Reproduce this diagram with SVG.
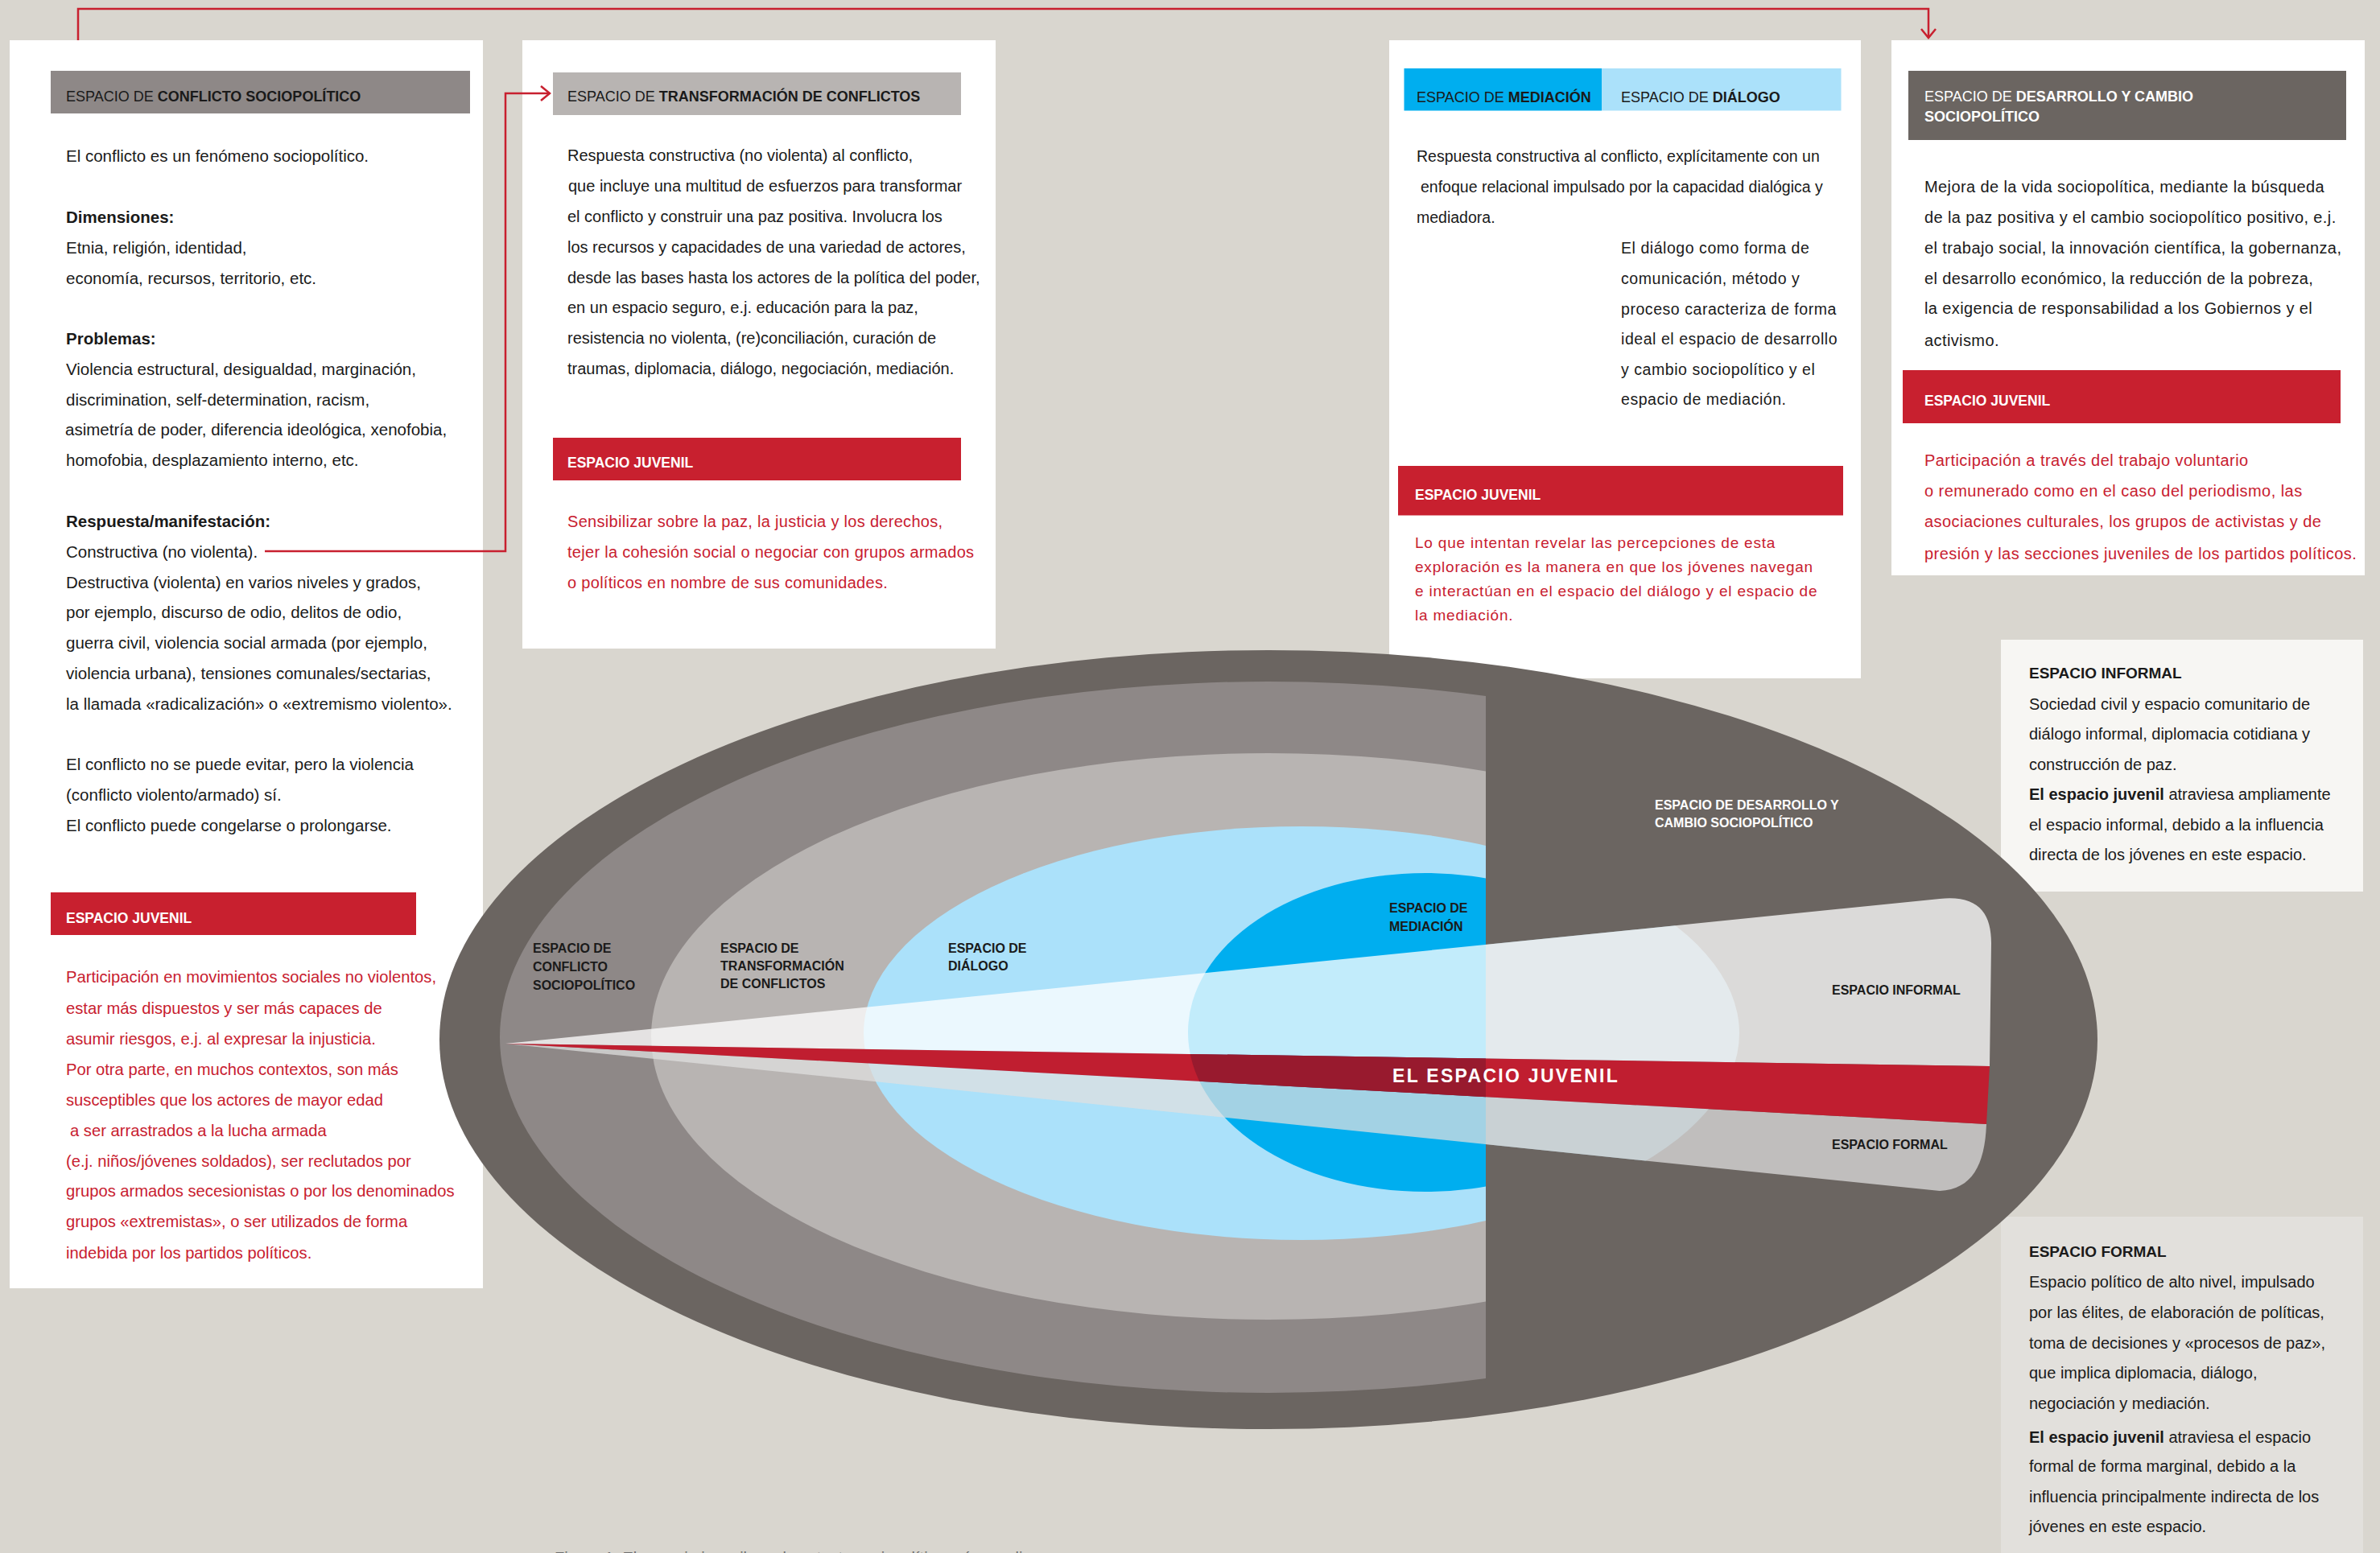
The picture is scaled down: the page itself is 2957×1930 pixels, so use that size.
<svg xmlns="http://www.w3.org/2000/svg" width="2957" height="1930" viewBox="0 0 2957 1930">
<style>
text{font-family:"Liberation Sans",Arial,sans-serif;}
.bg{fill:#d9d6cf}
.box{fill:#ffffff}
.hd{font-size:18px;fill:#1a1a1a}
.hw{font-size:18px;fill:#ffffff}
.jv{font-size:17.5px;fill:#ffffff;font-weight:bold}
.b1{font-size:20.5px;fill:#1a1a1a}
.r1{font-size:20.2px;fill:#c8202f}
.b2{font-size:20px;fill:#1a1a1a}
.r2{font-size:20px;fill:#c8202f;letter-spacing:0.3px}
.b4{font-size:20px;fill:#1a1a1a;letter-spacing:0.4px}
.r4{font-size:20px;fill:#c8202f;letter-spacing:0.45px}
.b3{font-size:19.5px;fill:#1a1a1a}
.b3w{font-size:19.5px;fill:#1a1a1a;letter-spacing:0.55px}
.r3{font-size:19px;fill:#c8202f;letter-spacing:0.8px}
.b5{font-size:20px;fill:#1a1a1a}
.lb{font-size:16px;font-weight:bold;fill:#1a1a1a}
.lw{font-size:16px;font-weight:bold;fill:#ffffff}
.bold{font-weight:bold}
.redfill{fill:#c8202f}
.conn{fill:none;stroke:#c8202f;stroke-width:2.5}
</style>
<defs>
<marker id="chev" markerUnits="userSpaceOnUse" markerWidth="16" markerHeight="22" refX="13" refY="11" orient="auto">
<path d="M2,2 L13,11 L2,20" fill="none" stroke="#c8202f" stroke-width="2.5"/>
</marker>
<clipPath id="cut"><rect x="0" y="0" width="1846" height="1930"/></clipPath>
<clipPath id="rightcut"><rect x="1846" y="0" width="1111" height="1930"/></clipPath>
<clipPath id="wedgeclip"><path d="M628,1297 L2410,1117 C2458,1112 2474,1135 2474,1172 L2468,1397 C2466,1448 2450,1478 2410,1480 Z"/></clipPath>
<clipPath id="midclip"><ellipse cx="1771" cy="1283" rx="295" ry="198"/></clipPath>
</defs>
<rect class="bg" x="0" y="0" width="2957" height="1930"/>

<g id="box-conflicto">
<rect class="box" x="12" y="50" width="588" height="1551"/>
<rect x="63" y="88" width="521" height="53" fill="#8e8887"/>
<text class="hd" x="82" y="126">ESPACIO DE <tspan class="bold">CONFLICTO SOCIOPOLÍTICO</tspan></text>
<text class="b1" x="82" y="201">El conflicto es un fenómeno sociopolítico.</text>
<text class="b1 bold" x="82" y="277">Dimensiones:</text>
<text class="b1" x="82" y="315">Etnia, religión, identidad,</text>
<text class="b1" x="82" y="353">economía, recursos, territorio, etc.</text>
<text class="b1 bold" x="82" y="428">Problemas:</text>
<text class="b1" x="82" y="466">Violencia estructural, desigualdad, marginación,</text>
<text class="b1" x="82" y="504">discrimination, self-determination, racism,</text>
<text class="b1" x="81" y="541">asimetría de poder, diferencia ideológica, xenofobia,</text>
<text class="b1" x="82" y="579">homofobia, desplazamiento interno, etc.</text>
<text class="b1 bold" x="82" y="655">Respuesta/manifestación:</text>
<text class="b1" x="82" y="693">Constructiva (no violenta).</text>
<text class="b1" x="82" y="731">Destructiva (violenta) en varios niveles y grados,</text>
<text class="b1" x="82" y="768">por ejemplo, discurso de odio, delitos de odio,</text>
<text class="b1" x="82" y="806">guerra civil, violencia social armada (por ejemplo,</text>
<text class="b1" x="82" y="844">violencia urbana), tensiones comunales/sectarias,</text>
<text class="b1" x="82" y="882">la llamada «radicalización» o «extremismo violento».</text>
<text class="b1" x="82" y="957">El conflicto no se puede evitar, pero la violencia</text>
<text class="b1" x="82" y="995">(conflicto violento/armado) sí.</text>
<text class="b1" x="82" y="1033">El conflicto puede congelarse o prolongarse.</text>
<rect class="redfill" x="63" y="1109" width="454" height="53"/>
<text class="jv" x="82" y="1147">ESPACIO JUVENIL</text>
<text class="r1" x="82" y="1221">Participación en movimientos sociales no violentos,</text>
<text class="r1" x="82" y="1260">estar más dispuestos y ser más capaces de</text>
<text class="r1" x="82" y="1298">asumir riesgos, e.j. al expresar la injusticia.</text>
<text class="r1" x="82" y="1336">Por otra parte, en muchos contextos, son más</text>
<text class="r1" x="82" y="1374">susceptibles que los actores de mayor edad</text>
<text class="r1" x="87" y="1412">a ser arrastrados a la lucha armada</text>
<text class="r1" x="82" y="1450">(e.j. niños/jóvenes soldados), ser reclutados por</text>
<text class="r1" x="82" y="1487">grupos armados secesionistas o por los denominados</text>
<text class="r1" x="82" y="1525">grupos «extremistas», o ser utilizados de forma</text>
<text class="r1" x="82" y="1564">indebida por los partidos políticos.</text>
</g>

<g id="box-transformacion">
<rect class="box" x="649" y="50" width="588" height="756"/>
<rect x="687" y="90" width="507" height="53" fill="#b8b4b2"/>
<text class="hd" x="705" y="126">ESPACIO DE <tspan class="bold">TRANSFORMACIÓN DE CONFLICTOS</tspan></text>
<text class="b2" x="705" y="200">Respuesta constructiva (no violenta) al conflicto,</text>
<text class="b2" x="706" y="238">que incluye una multitud de esfuerzos para transformar</text>
<text class="b2" x="705" y="276">el conflicto y construir una paz positiva. Involucra los</text>
<text class="b2" x="705" y="314">los recursos y capacidades de una variedad de actores,</text>
<text class="b2" x="705" y="352">desde las bases hasta los actores de la política del poder,</text>
<text class="b2" x="705" y="389">en un espacio seguro, e.j. educación para la paz,</text>
<text class="b2" x="705" y="427">resistencia no violenta, (re)conciliación, curación de</text>
<text class="b2" x="705" y="465">traumas, diplomacia, diálogo, negociación, mediación.</text>
<rect class="redfill" x="687" y="544" width="507" height="53"/>
<text class="jv" x="705" y="581">ESPACIO JUVENIL</text>
<text class="r2" x="705" y="655">Sensibilizar sobre la paz, la justicia y los derechos,</text>
<text class="r2" x="705" y="693">tejer la cohesión social o negociar con grupos armados</text>
<text class="r2" x="705" y="731">o políticos en nombre de sus comunidades.</text>
</g>

<g id="box-mediacion-dialogo">
<rect class="box" x="1726" y="50" width="586" height="793"/>
<rect x="1744.5" y="85" width="245.5" height="52.5" fill="#00aeef"/>
<rect x="1990" y="85" width="297.5" height="52.5" fill="#abe1fa"/>
<text class="hd" x="1760" y="127">ESPACIO DE <tspan class="bold">MEDIACIÓN</tspan></text>
<text class="hd" x="2014" y="127">ESPACIO DE <tspan class="bold">DIÁLOGO</tspan></text>
<text class="b3" x="1760" y="201">Respuesta constructiva al conflicto, explícitamente con un</text>
<text class="b3" x="1765" y="239">enfoque relacional impulsado por la capacidad dialógica y</text>
<text class="b3" x="1760" y="277">mediadora.</text>
<text class="b3w" x="2014" y="315">El diálogo como forma de</text>
<text class="b3w" x="2014" y="353">comunicación, método y</text>
<text class="b3w" x="2014" y="391">proceso caracteriza de forma</text>
<text class="b3w" x="2014" y="428">ideal el espacio de desarrollo</text>
<text class="b3w" x="2014" y="466">y cambio sociopolítico y el</text>
<text class="b3w" x="2014" y="503">espacio de mediación.</text>
<rect class="redfill" x="1737" y="579" width="553" height="61.5"/>
<text class="jv" x="1758" y="621">ESPACIO JUVENIL</text>
<text class="r3" x="1758" y="681">Lo que intentan revelar las percepciones de esta</text>
<text class="r3" x="1758" y="711">exploración es la manera en que los jóvenes navegan</text>
<text class="r3" x="1758" y="741">e interactúan en el espacio del diálogo y el espacio de</text>
<text class="r3" x="1758" y="771">la mediación.</text>
</g>

<g id="box-desarrollo">
<rect class="box" x="2350" y="50" width="588" height="665"/>
<rect x="2371" y="88" width="544" height="86" fill="#6b6561"/>
<text class="hw" x="2391" y="126">ESPACIO DE <tspan class="bold">DESARROLLO Y CAMBIO</tspan></text>
<text class="hw bold" x="2391" y="151">SOCIOPOLÍTICO</text>
<text class="b4" x="2391" y="239">Mejora de la vida sociopolítica, mediante la búsqueda</text>
<text class="b4" x="2391" y="277">de la paz positiva y el cambio sociopolítico positivo, e.j.</text>
<text class="b4" x="2391" y="315">el trabajo social, la innovación científica, la gobernanza,</text>
<text class="b4" x="2391" y="353">el desarrollo económico, la reducción de la pobreza,</text>
<text class="b4" x="2391" y="390">la exigencia de responsabilidad a los Gobiernos y el</text>
<text class="b4" x="2391" y="430">activismo.</text>
<rect class="redfill" x="2364" y="460" width="544" height="66"/>
<text class="jv" x="2391" y="504">ESPACIO JUVENIL</text>
<text class="r4" x="2391" y="579">Participación a través del trabajo voluntario</text>
<text class="r4" x="2391" y="617">o remunerado como en el caso del periodismo, las</text>
<text class="r4" x="2391" y="655">asociaciones culturales, los grupos de activistas y de</text>
<text class="r4" x="2391" y="695">presión y las secciones juveniles de los partidos políticos.</text>
</g>

<g id="box-informal">
<rect x="2486" y="795" width="450" height="313" fill="#f7f6f3"/>
<text class="b5 bold" x="2521" y="843" style="font-size:19px">ESPACIO INFORMAL</text>
<text class="b5" x="2521" y="882">Sociedad civil y espacio comunitario de</text>
<text class="b5" x="2521" y="919">diálogo informal, diplomacia cotidiana y</text>
<text class="b5" x="2521" y="957">construcción de paz.</text>
<text class="b5" x="2521" y="994"><tspan class="bold">El espacio juvenil</tspan> atraviesa ampliamente</text>
<text class="b5" x="2521" y="1032">el espacio informal, debido a la influencia</text>
<text class="b5" x="2521" y="1069">directa de los jóvenes en este espacio.</text>
</g>

<g id="box-formal">
<rect x="2486" y="1512" width="450" height="418" fill="#e2e0dc"/>
<text class="b5 bold" x="2521" y="1562" style="font-size:19px">ESPACIO FORMAL</text>
<text class="b5" x="2521" y="1600">Espacio político de alto nivel, impulsado</text>
<text class="b5" x="2521" y="1638">por las élites, de elaboración de políticas,</text>
<text class="b5" x="2521" y="1676">toma de decisiones y «procesos de paz»,</text>
<text class="b5" x="2521" y="1713">que implica diplomacia, diálogo,</text>
<text class="b5" x="2521" y="1751">negociación y mediación.</text>
<text class="b5" x="2521" y="1793"><tspan class="bold">El espacio juvenil</tspan> atraviesa el espacio</text>
<text class="b5" x="2521" y="1829">formal de forma marginal, debido a la</text>
<text class="b5" x="2521" y="1867">influencia principalmente indirecta de los</text>
<text class="b5" x="2521" y="1904">jóvenes en este espacio.</text>
</g>

<g id="diagram-espacios">
<ellipse cx="1576" cy="1292" rx="1030" ry="484" fill="#6b6561"/>
<g clip-path="url(#cut)">
<ellipse cx="1576" cy="1289" rx="955" ry="442" fill="#8e8887"/>
<ellipse cx="1576" cy="1288" rx="767" ry="352" fill="#b8b4b2"/>
<ellipse cx="1617" cy="1284" rx="544" ry="257" fill="#abe1fa"/>
<ellipse cx="1771" cy="1283" rx="295" ry="198" fill="#00aeef"/>
</g>
<g clip-path="url(#wedgeclip)"><g clip-path="url(#rightcut)">
<ellipse cx="1617" cy="1284" rx="544" ry="257" fill="#abe1fa" fill-opacity="0.55"/>
</g></g>
<path id="wedge-informal" d="M628,1297 L2410,1117 C2458,1112 2474,1135 2474,1172 L2472,1325 Z" fill="#ffffff" fill-opacity="0.76"/>
<path id="wedge-formal" d="M628,1297 L2468,1397 C2466,1448 2450,1478 2410,1480 Z" fill="#e0e0e0" fill-opacity="0.73"/>
<path id="band-juvenil" d="M628,1297 L2472,1325 L2468,1397 Z" fill="#c01e30"/>
<g clip-path="url(#cut)"><path d="M628,1297 L2472,1325 L2468,1397 Z" fill="#981a2e" clip-path="url(#midclip)"/></g>
<text class="lb" x="662" y="1184">ESPACIO DE</text>
<text class="lb" x="662" y="1207">CONFLICTO</text>
<text class="lb" x="662" y="1230">SOCIOPOLÍTICO</text>
<text class="lb" x="895" y="1184">ESPACIO DE</text>
<text class="lb" x="895" y="1206">TRANSFORMACIÓN</text>
<text class="lb" x="895" y="1228">DE CONFLICTOS</text>
<text class="lb" x="1178" y="1184">ESPACIO DE</text>
<text class="lb" x="1178" y="1206">DIÁLOGO</text>
<text class="lb" x="1726" y="1134">ESPACIO DE</text>
<text class="lb" x="1726" y="1157">MEDIACIÓN</text>
<text class="lw" x="2056" y="1006">ESPACIO DE DESARROLLO Y</text>
<text class="lw" x="2056" y="1028">CAMBIO SOCIOPOLÍTICO</text>
<text class="lb" x="2276" y="1236">ESPACIO INFORMAL</text>
<text class="lb" x="2276" y="1428">ESPACIO FORMAL</text>
<text x="1730" y="1345" style="font-size:23px;font-weight:bold;fill:#ffffff;letter-spacing:2.3px">EL ESPACIO JUVENIL</text>
</g>

<g id="connectors">
<path class="conn" d="M97,50 V11 H2396 V47" marker-end="url(#chev)"/>
<path class="conn" d="M329,685 H628 V116 H683" marker-end="url(#chev)"/>
</g>

<text x="689" y="1943" style="font-size:20px;fill:#6f6f6f">Figura 1: El espacio juvenil en el contexto sociopolítico más amplio</text>
</svg>
